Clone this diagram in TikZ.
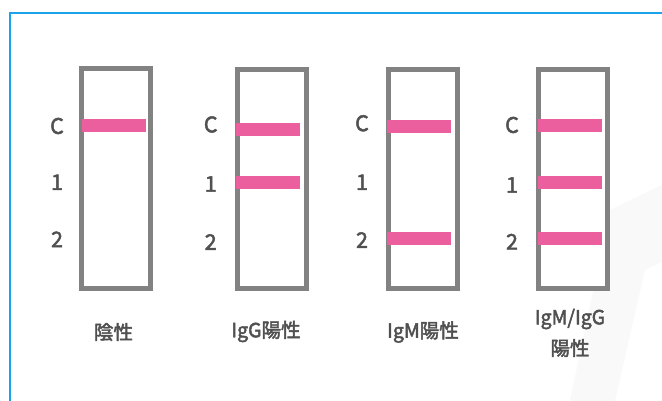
\documentclass[tikz,border=0pt]{standalone}
\usepackage{fontspec}
\setmainfont{Noto Sans CJK JP}
\newfontfamily\cjk{Noto Sans CJK JP}
\newcommand\thickentext[1]{\special{pdf:literal direct 2 Tr 0.45 w}#1\special{pdf:literal direct 0 Tr}}
\definecolor{frameblue}{HTML}{1AA3E8}
\definecolor{stripgray}{HTML}{828282}
\definecolor{bandpink}{HTML}{EC5F9E}
\definecolor{txtgray}{HTML}{505050}
\tikzset{
  stripbox/.style={draw=stripgray, line width=5pt, fill=white, minimum width=69pt, minimum height=219.5pt, inner sep=0pt, anchor=north west},
  band/.style={fill=bandpink, draw=none, minimum width=64pt, minimum height=13pt, inner sep=0pt},
  marklabel/.style={text=txtgray, font=\fontsize{21.5}{22}\selectfont, inner sep=0pt},
  caption/.style={text=txtgray, font=\cjk\fontsize{19.5}{23}\selectfont, inner sep=0pt, align=center},
}
\begin{document}
\begin{tikzpicture}[x=1pt,y=-1pt]
\useasboundingbox (0,0) rectangle (662,401);
\fill[white] (0,0) rectangle (662,401);
\fill[black!2.5] (610,210) -- (662,185) -- (662,401) -- (570,401) -- cycle;
\fill[white] (645,270) -- (662,262) -- (662,401) -- (615,401) -- cycle;
\draw[frameblue, line width=2pt] (10,401) -- (10,13.5) -- (662,13.5);
% strips
\node[stripbox] (s1) at (79.2,66.5) {};
\node[stripbox] (s2) at (235.2,66.8) {};
\node[stripbox] (s3) at (385.8,66.8) {};
\node[stripbox] (s4) at (535.8,66.8) {};
% bands
\node[band] (b1c) at (113.7,126) {};
\node[band] (b2c) at (268.4,129.3) {};
\node[band] (b21) at (268.4,182.5) {};
\node[band] (b3c) at (418.8,126.3) {};
\node[band] (b32) at (418.8,239) {};
\node[band] (b4c) at (570,126) {};
\node[band] (b41) at (570,182.3) {};
\node[band] (b42) at (570,239) {};
% marks
\node[marklabel] (c1) at (57,126) {\thickentext{C}};
\node[marklabel] (o1) at (57,182.3) {\thickentext{1}};
\node[marklabel] (t1) at (57,239.3) {\thickentext{2}};
\node[marklabel] (c2) at (210.7,124.5) {\thickentext{C}};
\node[marklabel] (o2) at (210.7,184) {\thickentext{1}};
\node[marklabel] (t2) at (210.7,242) {\thickentext{2}};
\node[marklabel] (c3) at (362,123.3) {\thickentext{C}};
\node[marklabel] (o3) at (362,182.3) {\thickentext{1}};
\node[marklabel] (t3) at (362,240) {\thickentext{2}};
\node[marklabel] (c4) at (512,125) {\thickentext{C}};
\node[marklabel] (o4) at (512,185) {\thickentext{1}};
\node[marklabel] (t4) at (512,241.7) {\thickentext{2}};
% captions
\node[caption] (l1) at (113.5,332) {\thickentext{陰性}};
\node[caption] (l2) at (266,331.5) {\thickentext{IgG陽性}};
\node[caption] (l3) at (423,332) {\thickentext{IgM陽性}};
\node[caption] (l4a) at (570,319) {\thickentext{IgM/IgG}};
\node[caption] (l4b) at (570,348) {\thickentext{陽性}};
\end{tikzpicture}
\end{document}
